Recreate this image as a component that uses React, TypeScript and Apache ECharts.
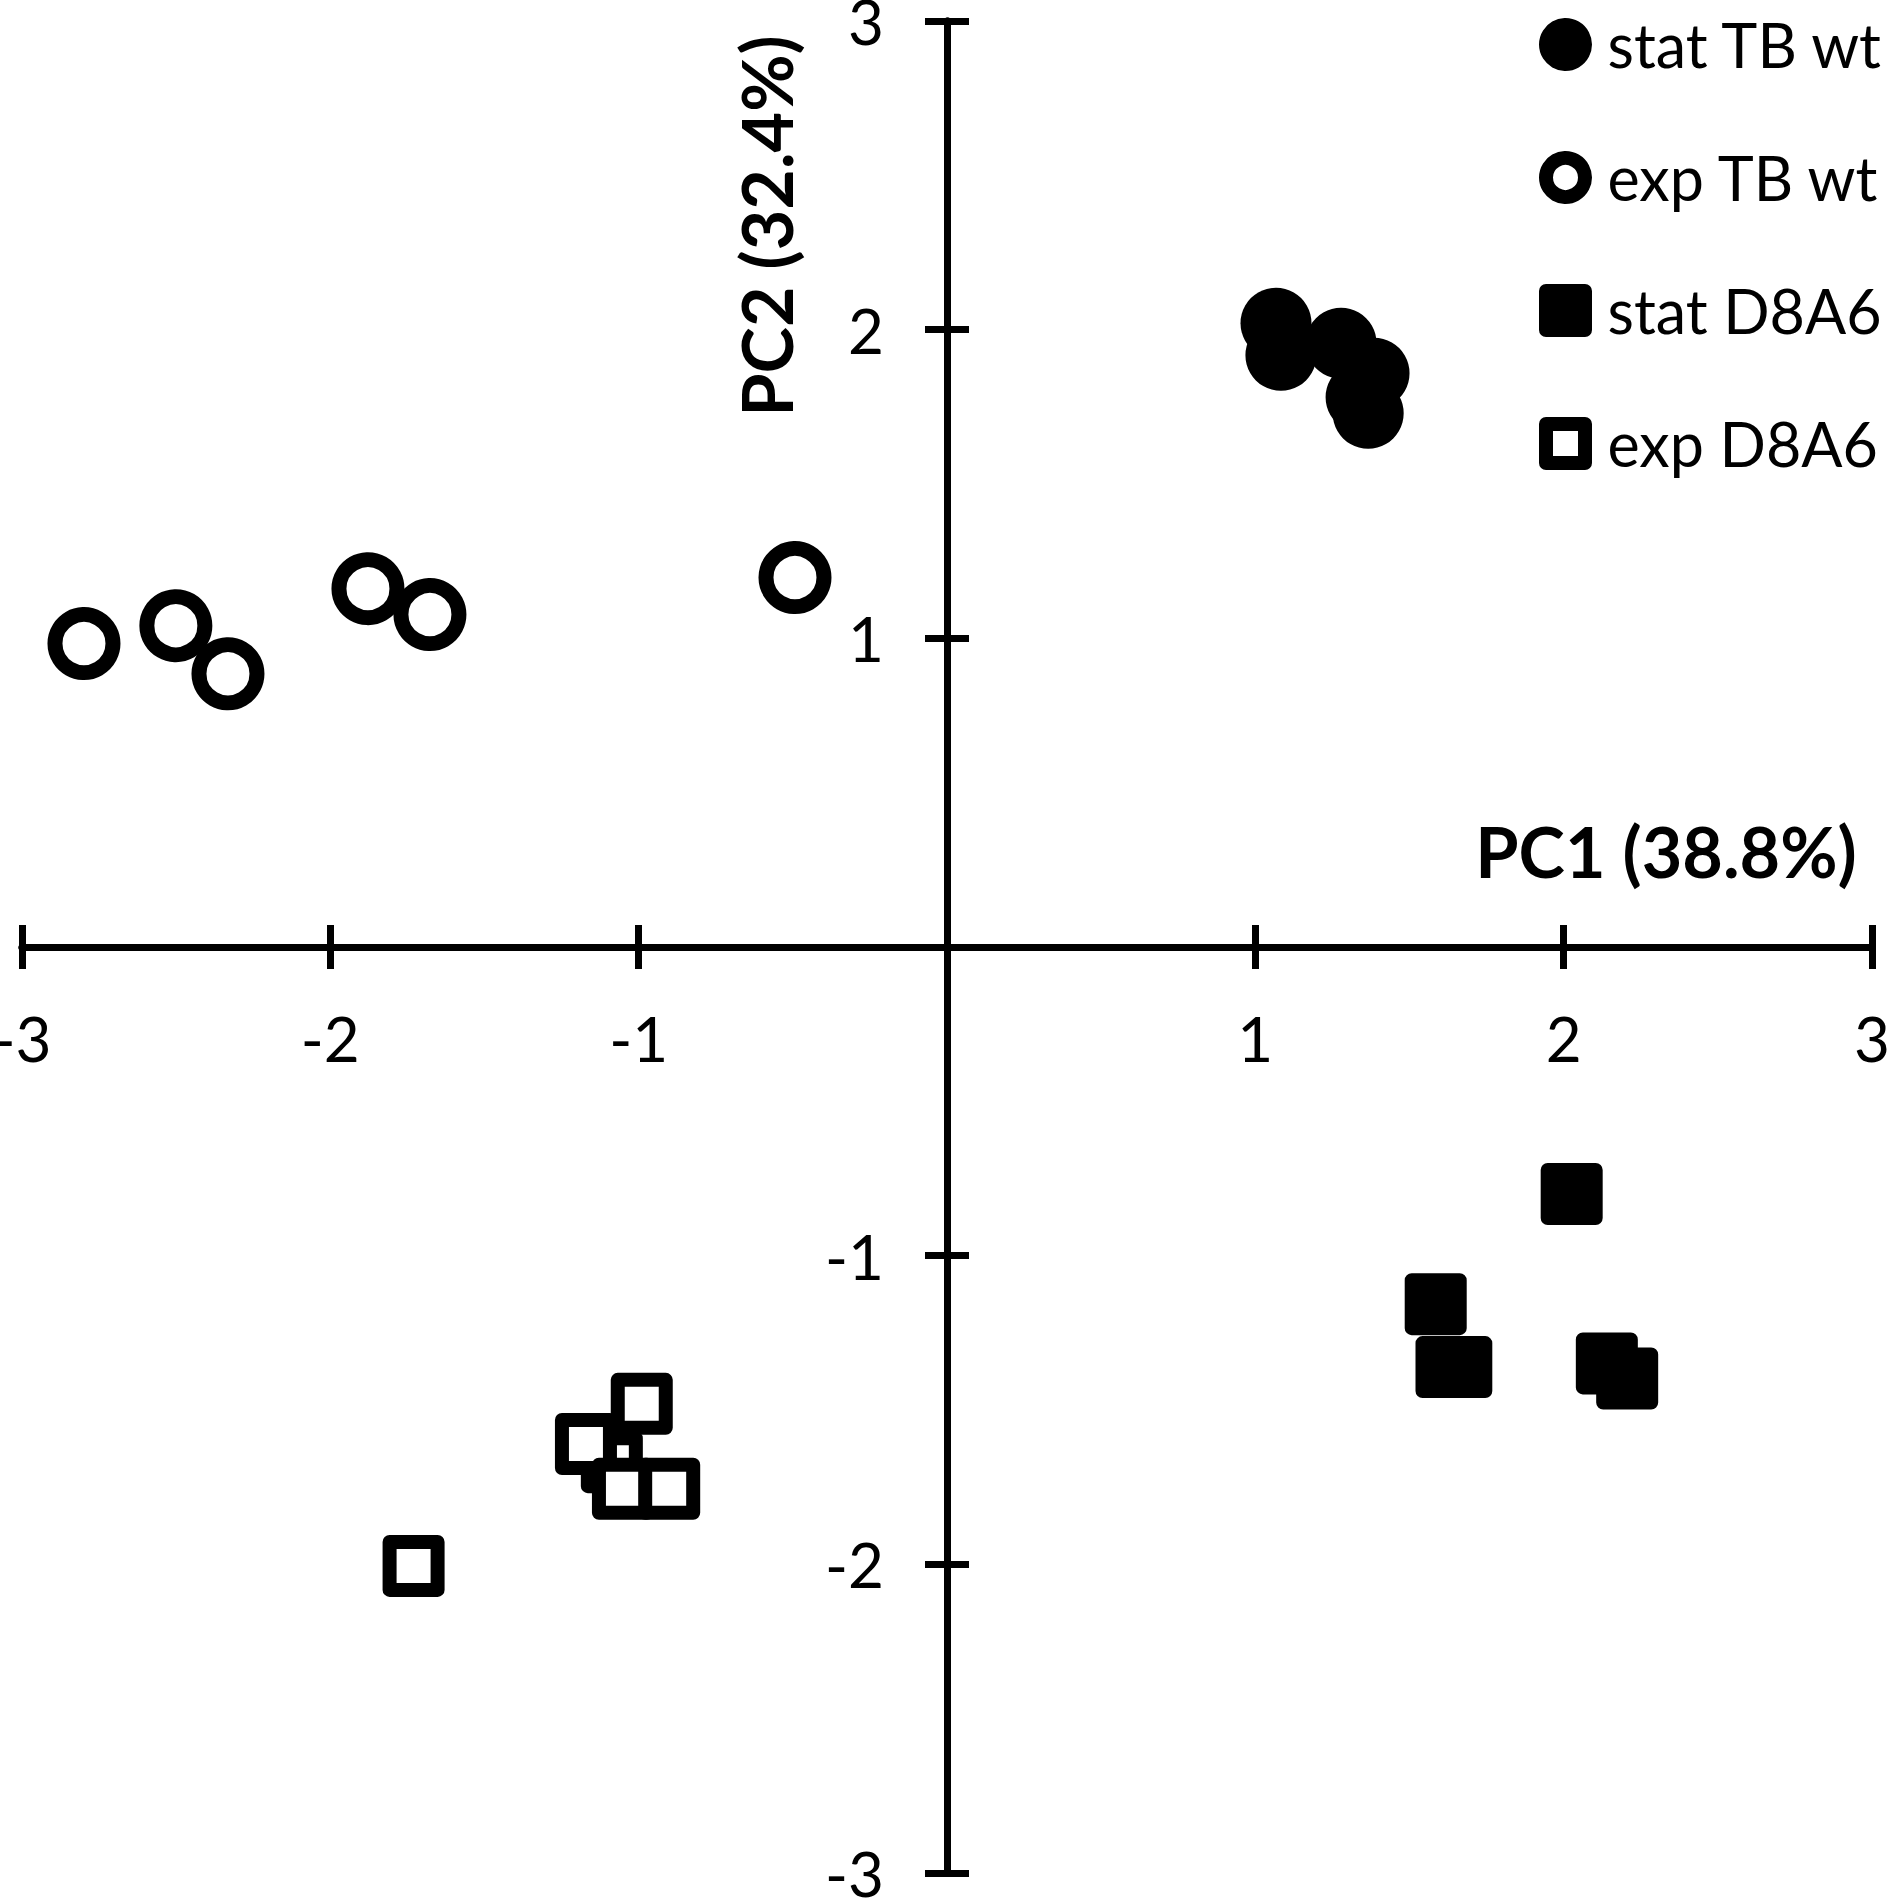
import React, { useEffect, useRef } from "react";
import * as echarts from "echarts";

// ---- data (PC1, PC2) ----
const seriesNames = ["stat TB wt", "exp TB wt", "stat D8A6", "exp D8A6"];

const statTBwt = [
  [1.067, 2.021],
  [1.083, 1.917],
  [1.278, 1.956],
  [1.385, 1.859],
  [1.343, 1.781],
  [1.366, 1.729],
];

const expTBwt = [
  [-2.799, 0.983],
  [-2.501, 1.041],
  [-2.332, 0.885],
  [-1.878, 1.161],
  [-1.677, 1.077],
  [-0.493, 1.197],
];

const statD8A6 = [
  [2.026, -0.8],
  [1.585, -1.157],
  [1.62, -1.361],
  [1.668, -1.361],
  [2.14, -1.349],
  [2.206, -1.398],
];

const expD8A6 = [
  [-1.087, -1.669],
  [-0.99, -1.48],
  [-1.171, -1.61],
  [-1.051, -1.755],
  [-0.901, -1.755],
  [-1.73, -2.005],
];

const axisMin = -3;
const axisMax = 3;
const axisStep = 1;

const xTitle = "PC1 (38.8%)";
const yTitle = "PC2 (32.4%)";

const FONT = "Lato";
const SQUARE_ICON = "path://M0,0L10,0L10,10L0,10Z";

export default function App() {
  const ref = useRef<HTMLDivElement>(null);

  useEffect(() => {
    const chart = echarts.init(ref.current as HTMLDivElement, null, {
      renderer: "svg",
    });

    const GRID = { left: 22, top: 21, width: 1850, height: 1852 };
    const midX = -GRID.width / 2;
    const midY = -GRID.height / 2;

    const lineStyle = { color: "#000", width: 7 };
    const tickFormatter = (v: number) => (v === 0 ? "" : String(v));

    const axisBase = {
      type: "value",
      min: axisMin,
      max: axisMax,
      interval: axisStep,
      splitLine: { show: false },
      axisLine: { show: true, onZero: false, lineStyle },
      axisTick: { show: true, length: 22, lineStyle },
    };

    const labelStyle = {
      show: true,
      fontFamily: FONT,
      fontSize: 62,
      color: "#000",
      showMinLabel: true,
      showMaxLabel: true,
      hideOverlap: false,
      formatter: tickFormatter,
    };

    chart.setOption({
      animation: false,
      backgroundColor: "#ffffff",
      grid: {
        ...GRID,
        containLabel: false,
        outerBoundsMode: "none",
      },
      xAxis: [
        {
          ...axisBase,
          position: "bottom",
          offset: midY,
          axisLabel: { ...labelStyle, margin: 60 },
        },
        {
          ...axisBase,
          position: "top",
          offset: midY,
          axisLabel: { show: false },
        },
      ],
      yAxis: [
        {
          ...axisBase,
          position: "left",
          offset: midX,
          axisLabel: { ...labelStyle, margin: 63 },
        },
        {
          ...axisBase,
          position: "right",
          offset: midX,
          axisLabel: { show: false },
        },
      ],
      legend: {
        orient: "vertical",
        left: 1539,
        top: 14,
        padding: 0,
        itemWidth: 74,
        itemHeight: 39,
        itemGap: 72,
        selectedMode: false,
        textStyle: { fontFamily: FONT, fontSize: 61, color: "#000" },
        data: [
          {
            name: seriesNames[0],
            icon: "circle",
            itemStyle: { color: "#000", borderColor: "#000", borderWidth: 14 },
          },
          {
            name: seriesNames[1],
            icon: "circle",
            itemStyle: { color: "#fff", borderColor: "#000", borderWidth: 14 },
          },
          {
            name: seriesNames[2],
            icon: SQUARE_ICON,
            itemStyle: {
              color: "#000",
              borderColor: "#000",
              borderWidth: 14,
              borderJoin: "round",
            },
          },
          {
            name: seriesNames[3],
            icon: SQUARE_ICON,
            itemStyle: {
              color: "#fff",
              borderColor: "#000",
              borderWidth: 14,
              borderJoin: "round",
            },
          },
        ],
      },
      graphic: [
        {
          type: "text",
          x: 1666,
          y: 851,
          style: {
            text: xTitle,
            font: `bold 70px ${FONT}`,
            fill: "#000",
            textAlign: "center",
            textVerticalAlign: "middle",
            align: "center",
            verticalAlign: "middle",
          },
        },
        {
          type: "text",
          x: 766,
          y: 226,
          rotation: Math.PI / 2,
          style: {
            text: yTitle,
            font: `bold 70px ${FONT}`,
            fill: "#000",
            textAlign: "center",
            textVerticalAlign: "middle",
            align: "center",
            verticalAlign: "middle",
          },
        },
      ],
      series: [
        {
          name: seriesNames[0],
          type: "scatter",
          data: statTBwt,
          symbol: "circle",
          symbolSize: 71,
          itemStyle: { color: "#000", opacity: 1 },
          emphasis: { disabled: true },
        },
        {
          name: seriesNames[1],
          type: "scatter",
          data: expTBwt,
          symbol: "circle",
          symbolSize: 58,
          itemStyle: { color: "#fff", borderColor: "#000", borderWidth: 15, opacity: 1 },
          emphasis: { disabled: true },
        },
        {
          name: seriesNames[2],
          type: "scatter",
          data: statD8A6,
          symbol: "rect",
          symbolSize: 48,
          itemStyle: {
            color: "#000",
            borderColor: "#000",
            borderWidth: 14,
            borderJoin: "round",
            opacity: 1,
          },
          emphasis: { disabled: true },
        },
        {
          name: seriesNames[3],
          type: "scatter",
          data: expD8A6,
          symbol: "rect",
          symbolSize: 48,
          itemStyle: {
            color: "#fff",
            borderColor: "#000",
            borderWidth: 14,
            borderJoin: "round",
            opacity: 1,
          },
          emphasis: { disabled: true },
        },
      ],
    });

    return () => {
      chart.dispose();
    };
  }, []);

  return (
    <div
      ref={ref}
      style={{
        position: "absolute",
        left: 0,
        top: 0,
        width: 1888,
        height: 1899,
        background: "#fff",
      }}
    />
  );
}
